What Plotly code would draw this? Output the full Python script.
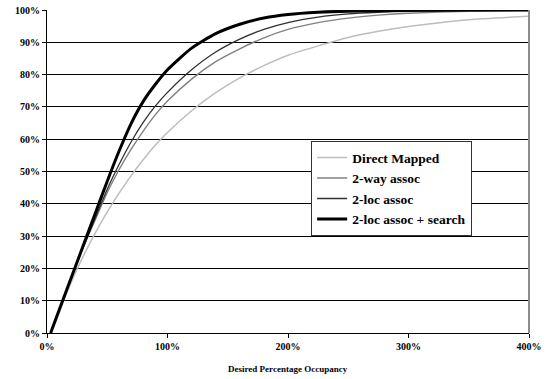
import plotly.graph_objects as go

# Desired percentage occupancy (x, %)
occupancy = [3, 10, 20, 30, 40, 50, 60, 70, 80, 90, 100, 120, 140, 160, 180,
             200, 225, 250, 275, 300, 350, 400]

# Achieved occupancy (y, %) per scheme
direct_mapped = [0, 6.8, 15.6, 23.7, 30.9, 37.5, 43.4, 48.8, 53.7, 58.2, 62.1,
                 68.8, 74.4, 79.0, 82.8, 86.0, 88.9, 91.5, 93.4, 94.9, 97.0, 98.1]
two_way = [0, 7, 17, 26.5, 35, 43.5, 50.7, 57.0, 62.6, 67.6, 71.8,
           78.6, 84.0, 88.0, 91.4, 94.0, 96.1, 97.5, 98.4, 99.0, 99.6, 99.85]
two_loc = [0, 7, 17, 26.5, 35.5, 44.5, 52.3, 59.3, 65.3, 70.3, 74.5,
           81.5, 87.0, 91.0, 94.0, 96.1, 97.8, 98.8, 99.3, 99.6, 99.85, 99.95]
two_loc_search = [0, 7, 17, 27, 37, 47, 56.5, 65.0, 71.8, 77.0, 81.5,
                  88.2, 92.7, 95.6, 97.5, 98.6, 99.3, 99.65, 99.8, 99.9, 99.97, 100]

series_names = ["Direct Mapped", "2-way assoc", "2-loc assoc", "2-loc assoc + search"]
x_ticks = [0, 100, 200, 300, 400]
x_labels = ["0%", "100%", "200%", "300%", "400%"]
y_ticks = [0, 10, 20, 30, 40, 50, 60, 70, 80, 90, 100]
y_labels = ["0%", "10%", "20%", "30%", "40%", "50%", "60%", "70%", "80%", "90%", "100%"]

styles = [("#bdbdbd", 1.5), ("#808080", 1.4), ("#303030", 1.3), ("#000000", 3)]
series = [direct_mapped, two_way, two_loc, two_loc_search]

fig = go.Figure()
for name, ys, (col, w) in zip(series_names, series, styles):
    fig.add_trace(go.Scatter(x=occupancy, y=ys, mode="lines", name=name,
                             line=dict(color=col, width=w, shape="spline", smoothing=0.6)))

serif = "Liberation Serif"
fig.update_layout(
    template="none",
    width=548, height=379,
    margin=dict(l=47, r=19, t=10, b=45.5, autoexpand=False),
    paper_bgcolor="white", plot_bgcolor="white",
    font=dict(family=serif, color="black", size=10, weight="bold"),
    showlegend=True,
    legend=dict(x=0.548, y=0.447, xanchor="left", yanchor="middle",
                bgcolor="white", bordercolor="#333333", borderwidth=1,
                font=dict(family=serif, size=13.5, color="black", weight="bold"),
                itemwidth=30, tracegroupgap=0),
    xaxis=dict(range=[0, 400], tickmode="array", tickvals=x_ticks, ticktext=x_labels,
               automargin=False, ticklabeloverflow="allow",
               showgrid=False, zeroline=False, showline=True, linecolor="black",
               linewidth=1, ticks="outside", ticklen=4, tickcolor="black", tickwidth=1,
               tickfont=dict(family=serif, size=10, weight="bold")),
    yaxis=dict(range=[0, 100], tickmode="array", tickvals=y_ticks, ticktext=y_labels,
               automargin=False, ticklabeloverflow="allow",
               showgrid=True, gridcolor="black", gridwidth=1, zeroline=False,
               showline=True, linecolor="black", linewidth=1, ticks="outside",
               ticklen=4, tickcolor="black", tickwidth=1,
               tickfont=dict(family=serif, size=10, weight="bold")),
    shapes=[dict(type="line", xref="paper", yref="paper", x0=1, x1=1, y0=0, y1=1,
                 line=dict(color="#8c8c8c", width=2))],
    annotations=[dict(text="Desired Percentage Occupancy", xref="paper", yref="paper",
                      x=0.5, y=-0.113, xanchor="center", yanchor="middle", showarrow=False,
                      font=dict(family=serif, size=9, weight="bold", color="black"))],
)

# remove the browser's default 8px body margin so the figure fills the window exactly
fig.write_html("out.html",
               config={"displayModeBar": False, "staticPlot": False},
               post_script="document.body.style.margin='0px';document.body.style.overflow='hidden';")
